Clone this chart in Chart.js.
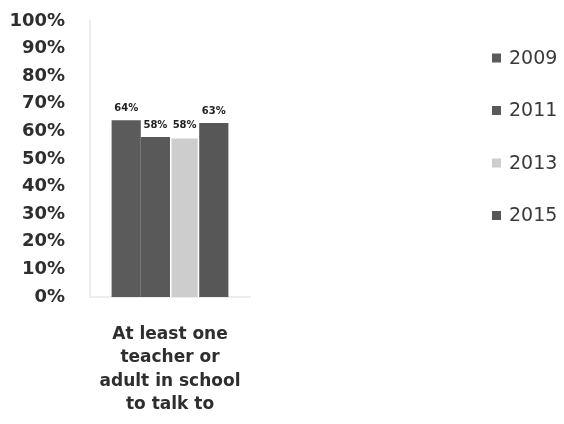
<!DOCTYPE html>
<html>
<head>
<meta charset="utf-8">
<script src="https://cdn.jsdelivr.net/npm/chart.js@4/dist/chart.umd.min.js"></script>
<style>
  html, body { margin: 0; padding: 0; background: #fff; }
  #wrap { width: 564px; height: 424px; position: relative; }
</style>
</head>
<body>
<div id="wrap"><canvas id="c" width="564" height="424"></canvas></div>
<script>
// Survey item shown on the category axis (one wrapped label)
const categories = [['At least one', 'teacher or', 'adult in school', 'to talk to']];
// Survey years, one bar each
const years = ['2009', '2011', '2013', '2015'];
// Percent answering yes, per year
const values2009 = [64];
const values2011 = [58];
const values2013 = [58];
const values2015 = [63];
// Y axis tick steps
const yTicks = [0, 10, 20, 30, 40, 50, 60, 70, 80, 90, 100];

const series = [values2009, values2011, values2013, values2015];
const fills = ['#5b5b5b', '#595959', '#cdcdcd', '#575757'];

// Percent labels above each bar
const valueLabels = {
  id: 'valueLabels',
  afterDatasetsDraw(chart) {
    const ctx = chart.ctx;
    ctx.save();
    ctx.font = 'bold 10px "DejaVu Sans"';
    ctx.fillStyle = '#222';
    ctx.textAlign = 'center';
    ctx.textBaseline = 'middle';
    chart.data.datasets.forEach((ds, i) => {
      chart.getDatasetMeta(i).data.forEach((bar, j) => {
        ctx.fillText(ds.data[j] + '%', bar.x, bar.y - 12);
      });
    });
    ctx.restore();
  }
};

// Vertical legend on the right side
const sideLegend = {
  id: 'sideLegend',
  afterDraw(chart) {
    const ctx = chart.ctx;
    ctx.save();
    ctx.font = '19px "DejaVu Sans"';
    ctx.textBaseline = 'middle';
    chart.data.datasets.forEach((ds, i) => {
      const y = 58 + i * 52.5;
      ctx.fillStyle = ds.backgroundColor;
      ctx.fillRect(492, y - 4.5, 9, 9);
      ctx.fillStyle = '#3a3a3a';
      ctx.fillText(ds.label, 509, y + 1);
    });
    ctx.restore();
  }
};

new Chart(document.getElementById('c'), {
  type: 'bar',
  data: {
    labels: categories,
    datasets: years.map((y, i) => ({
      label: y,
      data: series[i],
      backgroundColor: fills[i],
      borderColor: '#ffffff',
      borderWidth: i === 2 ? 1.5 : 0,
      categoryPercentage: 0.73,
      barPercentage: 1.0
    }))
  },
  options: {
    responsive: false,
    animation: false,
    layout: { padding: { top: 21, right: 314, bottom: 0, left: 0 } },
    plugins: { legend: { display: false }, tooltip: { enabled: false } },
    scales: {
      y: {
        min: 0, max: 100,
        afterFit(s) { s.width = 90; s.paddingTop = 0; s.paddingBottom = 0; },
        afterBuildTicks(s) { s.ticks = yTicks.map(v => ({ value: v })); },
        ticks: {
          padding: 17,
          color: '#2e2e2e',
          font: { family: '"DejaVu Sans"', weight: 'bold', size: 18 },
          callback: v => v + '%'
        },
        grid: { display: false },
        border: { display: true, color: '#ececec', width: 2 }
      },
      x: {
        afterFit(s) { s.height = 127; },
        ticks: {
          padding: 18,
          color: '#2e2e2e',
          font: { family: '"DejaVu Sans"', weight: 'bold', size: 17, lineHeight: 1.37 }
        },
        grid: { display: false },
        border: { display: true, color: '#ededed', width: 2 }
      }
    }
  },
  plugins: [valueLabels, sideLegend]
});
</script>
</body>
</html>
